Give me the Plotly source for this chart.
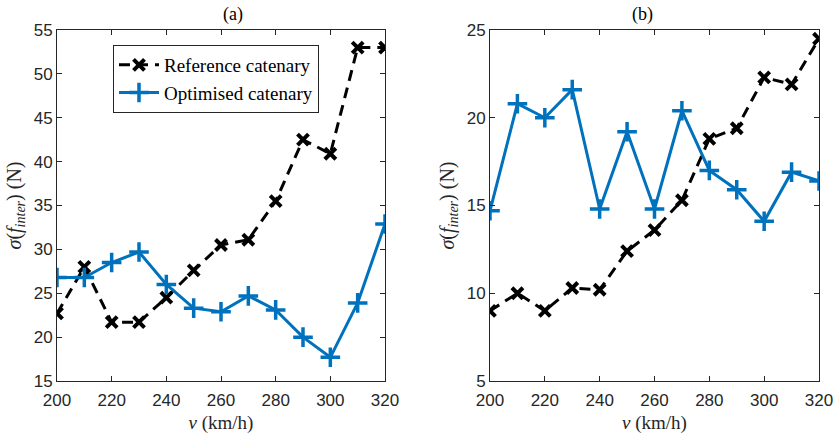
import plotly.graph_objects as go

speeds = [200, 210, 220, 230, 240, 250, 260, 270, 280, 290, 300, 310, 320]
ref_a = [22.7, 28.0, 21.7, 21.7, 24.5, 27.6, 30.5, 31.1, 35.5, 42.5, 40.9, 53.0, 53.0]
opt_a = [26.8, 26.8, 28.5, 29.7, 26.0, 23.3, 22.9, 24.7, 23.1, 20.0, 17.7, 23.9, 32.9]
ref_b = [9.0, 10.0, 9.0, 10.3, 10.2, 12.4, 13.6, 15.3, 18.8, 19.4, 22.3, 21.9, 24.5]
opt_b = [14.7, 20.8, 20.0, 21.6, 14.8, 19.2, 14.8, 20.4, 17.0, 15.9, 14.1, 16.9, 16.4]
xticks = [200, 220, 240, 260, 280, 300, 320]
yticks_a = [15, 20, 25, 30, 35, 40, 45, 50, 55]
yticks_b = [5, 10, 15, 20, 25]

BLUE = "#0072BD"
AX = "#262626"
SERIF = "Liberation Serif, DejaVu Serif, serif"
SANS = "Liberation Sans, Arial, sans-serif"
W, H = 836, 439
L, R, T, B = 57, 17, 30, 58
PW = W - L - R

fig = go.Figure()

def add_pair(ref, opt, xa, ya, show):
    fig.add_trace(go.Scatter(
        x=speeds, y=ref, mode="lines+markers", name="Reference catenary",
        line=dict(color="black", width=3, dash="11px,7px"),
        marker=dict(symbol="x-thin", size=11, line=dict(color="black", width=4)),
        xaxis=xa, yaxis=ya, showlegend=show))
    fig.add_trace(go.Scatter(
        x=speeds, y=opt, mode="lines+markers", name="Optimised catenary",
        line=dict(color=BLUE, width=3),
        marker=dict(symbol="cross-thin", size=14, line=dict(color=BLUE, width=3.5)),
        xaxis=xa, yaxis=ya, showlegend=show))

add_pair(ref_a, opt_a, "x", "y", True)
add_pair(ref_b, opt_b, "x2", "y2", False)

ax_common = dict(
    showline=True, linecolor=AX, linewidth=1, mirror="ticks",
    ticks="inside", ticklen=5, tickcolor=AX, showgrid=False, zeroline=False,
    tickfont=dict(family=SANS, size=17, color=AX), automargin=False,
)
x_extra = dict(ticklabelstandoff=4)

ylabel = "<i>σ</i>(<i>f</i><sub><i>inter</i></sub>) (N)"
xlabel = "<i>v</i> (km/h)"
tfont = dict(family=SERIF, size=19, color=AX)
yfont = dict(family=SERIF, size=20, color=AX)

fig.update_layout(
    width=W, height=H,
    margin=dict(l=L, r=R, t=T, b=B),
    paper_bgcolor="white", plot_bgcolor="white",
    xaxis=dict(domain=[0, (385 - L) / PW], range=[200, 320], tickvals=xticks,
               title=dict(text=xlabel, font=tfont, standoff=6),
               anchor="y", **ax_common, **x_extra),
    yaxis=dict(domain=[0, 1], range=[15, 55], tickvals=yticks_a,
               title=dict(text=ylabel, font=yfont, standoff=6),
               anchor="x", **ax_common),
    xaxis2=dict(domain=[(490 - L) / PW, 1], range=[200, 320], tickvals=xticks,
                title=dict(text=xlabel, font=tfont, standoff=6),
                anchor="y2", **ax_common, **x_extra),
    yaxis2=dict(domain=[0, 1], range=[5, 25], tickvals=yticks_b,
                title=dict(text=ylabel, font=yfont, standoff=6),
                anchor="x2", **ax_common),
    legend=dict(x=(113 - L) / PW, y=1 - (45 - T) / (H - T - B), xanchor="left", yanchor="top",
                bgcolor="white", bordercolor=AX, borderwidth=1,
                font=dict(family=SERIF, size=19, color="black"),
                tracegroupgap=0, itemwidth=40),
    annotations=[
        dict(text="(a)", x=((57 + 385) / 2 - L) / PW, y=1, yanchor="bottom", yshift=3,
             xref="paper", yref="paper",
             showarrow=False, font=dict(family=SERIF, size=18, color="black")),
        dict(text="(b)", x=((490 + 819) / 2 - L) / PW, y=1, yanchor="bottom", yshift=3,
             xref="paper", yref="paper",
             showarrow=False, font=dict(family=SERIF, size=18, color="black")),
    ],
)

fig.write_html("out.html")
